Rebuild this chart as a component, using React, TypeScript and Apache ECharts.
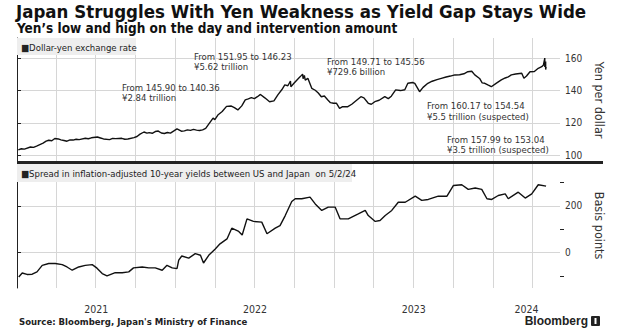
import React, { useEffect, useRef } from "react";
import * as echarts from "echarts";

const FONT = '"DejaVu Sans Condensed", "DejaVu Sans", sans-serif';

const AXIS_START = "2021-01-01";
const AXIS_END = "2024-06-03";
const QUARTER_STARTS = [
  "2021-04-01", "2021-07-01", "2021-10-01", "2022-01-01", "2022-04-01", "2022-07-01",
  "2022-10-01", "2023-01-01", "2023-04-01", "2023-07-01", "2023-10-01", "2024-01-01", "2024-04-01",
];
const YEARS = ["2021", "2022", "2023", "2024"];

const USDJPY_2021: [string, number][] = [
  ["2021-01-04", 103.2], ["2021-01-11", 103.9], ["2021-01-18", 103.7], ["2021-02-01", 105.0],
  ["2021-02-08", 104.8], ["2021-02-15", 105.6], ["2021-03-02", 107.4], ["2021-03-09", 108.6],
  ["2021-03-15", 109.2], ["2021-03-22", 108.9], ["2021-03-29", 110.3], ["2021-04-06", 110.0],
  ["2021-04-12", 109.4], ["2021-04-19", 109.0], ["2021-04-26", 108.6], ["2021-05-03", 109.4],
  ["2021-05-10", 109.3], ["2021-05-17", 109.8], ["2021-05-24", 109.6], ["2021-06-07", 110.4],
  ["2021-06-14", 110.1], ["2021-06-21", 110.7], ["2021-07-05", 111.2], ["2021-07-12", 110.6],
  ["2021-07-19", 110.0], ["2021-08-02", 109.6], ["2021-08-09", 110.3], ["2021-08-16", 110.2],
  ["2021-08-30", 110.4], ["2021-09-06", 109.8], ["2021-09-13", 110.0], ["2021-09-27", 110.8],
  ["2021-10-04", 111.5], ["2021-10-11", 113.0], ["2021-10-20", 114.3], ["2021-10-27", 113.6],
  ["2021-11-01", 113.9], ["2021-11-08", 113.5], ["2021-11-15", 114.6], ["2021-11-22", 114.9],
  ["2021-11-29", 113.7], ["2021-12-06", 113.4], ["2021-12-13", 114.0], ["2021-12-20", 113.6],
  ["2021-12-27", 114.8],
];
const USDJPY_2022: [string, number][] = [
  ["2022-01-04", 116.2], ["2022-01-14", 114.8], ["2022-01-21", 115.0], ["2022-01-28", 115.6],
  ["2022-02-04", 115.3], ["2022-02-11", 115.9], ["2022-02-18", 115.5], ["2022-02-25", 115.2],
  ["2022-03-04", 115.6], ["2022-03-11", 116.5], ["2022-03-18", 119.2], ["2022-03-28", 122.9],
  ["2022-04-01", 122.0], ["2022-04-08", 124.8], ["2022-04-18", 127.0], ["2022-04-28", 130.2],
  ["2022-05-09", 130.4], ["2022-05-16", 129.4], ["2022-05-24", 128.0], ["2022-06-02", 130.5],
  ["2022-06-10", 134.2], ["2022-06-17", 134.8], ["2022-06-24", 135.6], ["2022-07-01", 135.0],
  ["2022-07-08", 136.2], ["2022-07-15", 137.6], ["2022-07-25", 135.5], ["2022-08-05", 133.1],
  ["2022-08-15", 133.6], ["2022-08-24", 137.3], ["2022-09-02", 140.5], ["2022-09-09", 143.5],
  ["2022-09-16", 143.0], ["2022-09-22", 145.9], ["2022-09-23", 142.4], ["2022-09-30", 144.5],
  ["2022-10-07", 146.6], ["2022-10-14", 148.5], ["2022-10-20", 150.2], ["2022-10-21", 147.4],
  ["2022-10-24", 149.4], ["2022-10-26", 146.5], ["2022-11-01", 147.6], ["2022-11-10", 141.4],
  ["2022-11-18", 140.2], ["2022-11-25", 138.5], ["2022-12-02", 136.2], ["2022-12-09", 136.6],
  ["2022-12-17", 134.2], ["2022-12-23", 132.5], ["2022-12-30", 132.1],
];
const USDJPY_2023: [string, number][] = [
  ["2023-01-06", 132.1], ["2023-01-13", 129.0], ["2023-01-20", 130.0], ["2023-02-01", 130.0],
  ["2023-02-10", 131.5], ["2023-02-17", 133.1], ["2023-03-03", 136.2], ["2023-03-10", 135.5],
  ["2023-03-20", 132.1], ["2023-03-27", 131.5], ["2023-04-04", 133.1], ["2023-04-14", 134.0],
  ["2023-04-27", 136.2], ["2023-05-05", 135.0], ["2023-05-12", 136.5], ["2023-05-22", 140.4],
  ["2023-06-02", 140.0], ["2023-06-12", 140.5], ["2023-06-19", 144.5], ["2023-06-30", 145.0],
  ["2023-07-05", 144.5], ["2023-07-16", 139.3], ["2023-07-24", 142.0], ["2023-08-04", 144.5],
  ["2023-08-14", 145.8], ["2023-08-25", 146.8], ["2023-09-04", 147.6], ["2023-09-15", 148.4],
  ["2023-09-25", 149.0], ["2023-10-05", 149.7], ["2023-10-16", 149.8], ["2023-10-26", 150.4],
  ["2023-11-04", 151.7], ["2023-11-13", 152.0], ["2023-11-20", 149.7], ["2023-12-01", 147.5],
  ["2023-12-07", 144.8], ["2023-12-13", 144.5], ["2023-12-20", 143.5], ["2023-12-28", 142.4],
];
const USDJPY_2024: [string, number][] = [
  ["2024-01-08", 144.5], ["2024-01-20", 146.6], ["2024-01-29", 147.8], ["2024-02-05", 148.5],
  ["2024-02-12", 149.7], ["2024-02-22", 150.3], ["2024-03-07", 150.7], ["2024-03-12", 147.6],
  ["2024-03-18", 149.0], ["2024-03-26", 151.7], ["2024-04-05", 151.8], ["2024-04-14", 153.8],
  ["2024-04-22", 154.8], ["2024-04-26", 155.9], ["2024-04-29", 160.17], ["2024-04-29", 154.54],
  ["2024-05-01", 157.99], ["2024-05-01", 153.04], ["2024-05-02", 154.7],
];

const SPREAD_2021: [string, number][] = [
  ["2021-01-05", -105], ["2021-01-13", -88], ["2021-01-24", -94], ["2021-02-05", -93],
  ["2021-02-16", -83], ["2021-02-28", -55], ["2021-03-15", -47], ["2021-03-30", -47],
  ["2021-04-15", -52], ["2021-04-26", -62], ["2021-05-08", -76], ["2021-05-23", -62],
  ["2021-06-07", -55], ["2021-06-23", -52], ["2021-07-04", -67], ["2021-07-16", -90],
  ["2021-07-27", -100], ["2021-08-15", -86], ["2021-08-31", -87], ["2021-09-15", -83],
  ["2021-09-26", -66], ["2021-10-16", -62], ["2021-10-31", -66], ["2021-11-15", -66],
  ["2021-12-01", -76], ["2021-12-12", -55], ["2021-12-24", -66],
];
const SPREAD_2022: [string, number][] = [
  ["2022-01-04", -69], ["2022-01-08", -33], ["2022-01-15", -15], ["2022-01-31", -24],
  ["2022-02-15", -5], ["2022-02-27", -12], ["2022-03-06", -45], ["2022-03-18", -12],
  ["2022-04-02", 15], ["2022-04-13", 37], ["2022-04-29", 58], ["2022-05-10", 104],
  ["2022-05-26", 90], ["2022-06-03", 75], ["2022-06-14", 144], ["2022-06-29", 133],
  ["2022-07-18", 130], ["2022-07-30", 80], ["2022-08-18", 104], ["2022-08-29", 115],
  ["2022-09-10", 158], ["2022-09-25", 218], ["2022-10-03", 230], ["2022-10-18", 230],
  ["2022-11-06", 237], ["2022-11-18", 208], ["2022-12-03", 180], ["2022-12-18", 194],
];
const SPREAD_2023: [string, number][] = [
  ["2023-01-03", 194], ["2023-01-14", 144], ["2023-02-02", 144], ["2023-02-25", 165],
  ["2023-03-13", 180], ["2023-03-20", 158], ["2023-04-05", 133], ["2023-04-16", 137],
  ["2023-04-28", 158], ["2023-05-13", 180], ["2023-05-28", 215], ["2023-06-13", 215],
  ["2023-07-06", 241], ["2023-07-21", 223], ["2023-08-05", 227], ["2023-08-28", 241],
  ["2023-09-17", 241], ["2023-10-02", 287], ["2023-10-21", 290], ["2023-11-05", 270],
  ["2023-11-21", 276], ["2023-12-06", 270], ["2023-12-18", 230], ["2023-12-29", 227],
];
const SPREAD_2024: [string, number][] = [
  ["2024-01-13", 244], ["2024-01-29", 251], ["2024-02-05", 230], ["2024-02-28", 258],
  ["2024-03-15", 233], ["2024-03-30", 251], ["2024-04-14", 290], ["2024-05-02", 284],
];

const ANNOTATIONS = [
  { x: 122, y: 82, text: "From 145.90 to 140.36\n¥2.84 trillion" },
  { x: 194, y: 51, text: "From 151.95 to 146.23\n¥5.62 trillion" },
  { x: 327, y: 56, text: "From 149.71 to 145.56\n¥729.6 billion" },
  { x: 427, y: 100.5, text: "From 160.17 to 154.54\n¥5.5 trillion (suspected)" },
  { x: 447, y: 134, text: "From 157.99 to 153.04\n¥3.5 trillion (suspected)" },
];

const dayOf = (s: string) =>
  (Date.UTC(+s.slice(0, 4), +s.slice(5, 7) - 1, +s.slice(8, 10)) -
    Date.UTC(+AXIS_START.slice(0, 4), +AXIS_START.slice(5, 7) - 1, +AXIS_START.slice(8, 10))) /
  86400000;

export default function App() {
  const ref = useRef<HTMLDivElement>(null);
  useEffect(() => {
    if (!ref.current) return;
    const chart = echarts.init(ref.current, undefined, { renderer: "svg" });
    const xMin = 0;
    const xMax = dayOf(AXIS_END);
    const quarterTicks = QUARTER_STARTS.map(dayOf);
    const yearPos = YEARS.map((y) => {
      const s = Math.max(xMin, dayOf(`${y}-01-01`));
      const e = Math.min(xMax, dayOf(`${+y + 1}-01-01`));
      return (s + e) / 2;
    });
    const toPts = (arr: [string, number][]) => arr.map(([d, v]) => [dayOf(d), v]);
    const fx = [...USDJPY_2021, ...USDJPY_2022, ...USDJPY_2023, ...USDJPY_2024];
    const spread = [...SPREAD_2021, ...SPREAD_2022, ...SPREAD_2023, ...SPREAD_2024];

    const gridColor = "#d6d6d6";
    const baseX = (gi: number, labels: boolean) => ({
      type: "value",
      gridIndex: gi,
      min: xMin,
      max: xMax,
      axisLine: { show: false },
      axisTick: { show: false },
      splitLine: { show: false },
      axisLabel: labels
        ? {
            show: true,
            customValues: yearPos,
            margin: 15,
            color: "#333",
            fontSize: 10.5,
            fontFamily: FONT,
            formatter: (v: number) => {
              let best = 0;
              yearPos.forEach((p, i) => {
                if (Math.abs(p - v) < Math.abs(yearPos[best] - v)) best = i;
              });
              return YEARS[best];
            },
          }
        : { show: false },
    });

    const quarterLines = {
      silent: true,
      symbol: ["none", "none"],
      label: { show: false },
      lineStyle: { color: gridColor, type: "solid", width: 1 },
      emphasis: { disabled: true },
      data: quarterTicks.map((v) => ({ xAxis: v })),
    };

    const labelStyle = { color: "#333", fontSize: 10, fontFamily: FONT, margin: 5 };
    const nameStyle = { color: "#333", fontSize: 12.5, fontFamily: FONT };

    chart.setOption({
      animation: false,
      backgroundColor: "#ffffff",
      grid: [
        { left: 17, right: 80, top: 38, height: 124 },
        { left: 17, right: 80, top: 163, height: 125 },
      ],
      xAxis: [baseX(0, false), baseX(1, true)],
      yAxis: [
        {
          type: "value",
          gridIndex: 0,
          position: "right",
          min: 95.7,
          max: 172.6,
          axisLine: { show: true, lineStyle: { color: "#222", width: 1 } },
          axisTick: { show: true, length: 4, customValues: [100, 120, 140, 160], lineStyle: { color: "#222" } },
          axisLabel: { ...labelStyle, customValues: [100, 120, 140, 160] },
          splitLine: { show: true, lineStyle: { color: gridColor } },
          name: "Yen per dollar",
          nameLocation: "middle",
          nameRotate: -90,
          nameGap: 30,
          nameTextStyle: nameStyle,
        },
        {
          type: "value",
          gridIndex: 1,
          position: "right",
          min: -152,
          max: 383,
          axisLine: { show: true, lineStyle: { color: "#222", width: 1 } },
          axisTick: { show: true, length: 4, customValues: [0, 200], lineStyle: { color: "#222" } },
          axisLabel: { ...labelStyle, customValues: [0, 200] },
          splitLine: { show: true, lineStyle: { color: gridColor } },
          name: "Basis points",
          nameLocation: "middle",
          nameRotate: -90,
          nameGap: 30,
          nameTextStyle: nameStyle,
        },
        {
          type: "value",
          gridIndex: 1,
          position: "right",
          min: -152,
          max: 383,
          axisLine: { show: false },
          axisTick: { show: true, length: 4, customValues: [-100, 100, 300], lineStyle: { color: "#222" } },
          axisLabel: { show: false },
          splitLine: { show: false },
        },
      ],
      series: [
        {
          type: "line",
          xAxisIndex: 0,
          yAxisIndex: 0,
          data: toPts(fx),
          showSymbol: false,
          lineStyle: { color: "#111", width: 1.4 },
          markLine: quarterLines,
          z: 5,
        },
        {
          type: "line",
          xAxisIndex: 1,
          yAxisIndex: 1,
          data: toPts(spread),
          showSymbol: false,
          lineStyle: { color: "#111", width: 1.4 },
          markLine: quarterLines,
          z: 5,
        },
      ],
      graphic: [
        {
          type: "text",
          x: 16,
          y: 11,
          style: {
            text: "Japan Struggles With Yen Weakness as Yield Gap Stays Wide",
            font: `bold 18.5px ${FONT}`,
            fill: "#111",
            textAlign: "left",
            textVerticalAlign: "middle",
          },
        },
        {
          type: "text",
          x: 17,
          y: 28,
          style: {
            text: "Yen’s low and high on the day and intervention amount",
            font: `bold 13.5px ${FONT}`,
            fill: "#111",
            textAlign: "left",
            textVerticalAlign: "middle",
          },
        },
        { type: "rect", shape: { x: 17, y: 38, width: 119, height: 17 }, style: { fill: "#eeeeee" }, z: 10 },
        {
          type: "text",
          x: 21,
          y: 47,
          z: 11,
          style: { text: "■Dollar-yen exchange rate", font: `9.5px ${FONT}`, fill: "#222", textAlign: "left", textVerticalAlign: "middle" },
        },
        { type: "rect", shape: { x: 17, y: 164, width: 335, height: 18 }, style: { fill: "#eeeeee" }, z: 10 },
        {
          type: "text",
          x: 21,
          y: 173.5,
          z: 11,
          style: {
            text: "■Spread in inflation-adjusted 10-year yields between US and Japan  on 5/2/24",
            font: `9.5px ${FONT}`,
            fill: "#222",
            textAlign: "left",
            textVerticalAlign: "middle",
          },
        },
        ...ANNOTATIONS.map((a) => ({
          type: "text",
          x: a.x,
          y: a.y,
          z: 12,
          style: { text: a.text, font: `9.5px ${FONT}`, fill: "#333", lineHeight: 10.5, textAlign: "left", textVerticalAlign: "top" },
        })),
        {
          type: "line",
          z: 20,
          shape: { x1: 17, y1: 162.5, x2: 603, y2: 162.5 },
          style: { stroke: "#222", lineWidth: 3 },
        },
        {
          type: "text",
          x: 19,
          y: 321,
          style: {
            text: "Source: Bloomberg, Japan's Ministry of Finance",
            font: `bold 9.5px ${FONT}`,
            fill: "#222",
            textAlign: "left",
            textVerticalAlign: "middle",
          },
        },
        {
          type: "text",
          x: 588,
          y: 321,
          style: { text: "Bloomberg", font: `bold 12px "Liberation Sans", sans-serif`, fill: "#222", textAlign: "right", textVerticalAlign: "middle" },
        },
        { type: "rect", shape: { x: 591, y: 316, width: 9, height: 10, r: 1 }, style: { fill: "#222" } },
        { type: "rect", shape: { x: 594.5, y: 318, width: 2, height: 6 }, style: { fill: "#fff" } },
      ],
    });
    return () => chart.dispose();
  }, []);
  return <div ref={ref} style={{ position: "fixed", left: 0, top: 0, width: 640, height: 331 }} />;
}
